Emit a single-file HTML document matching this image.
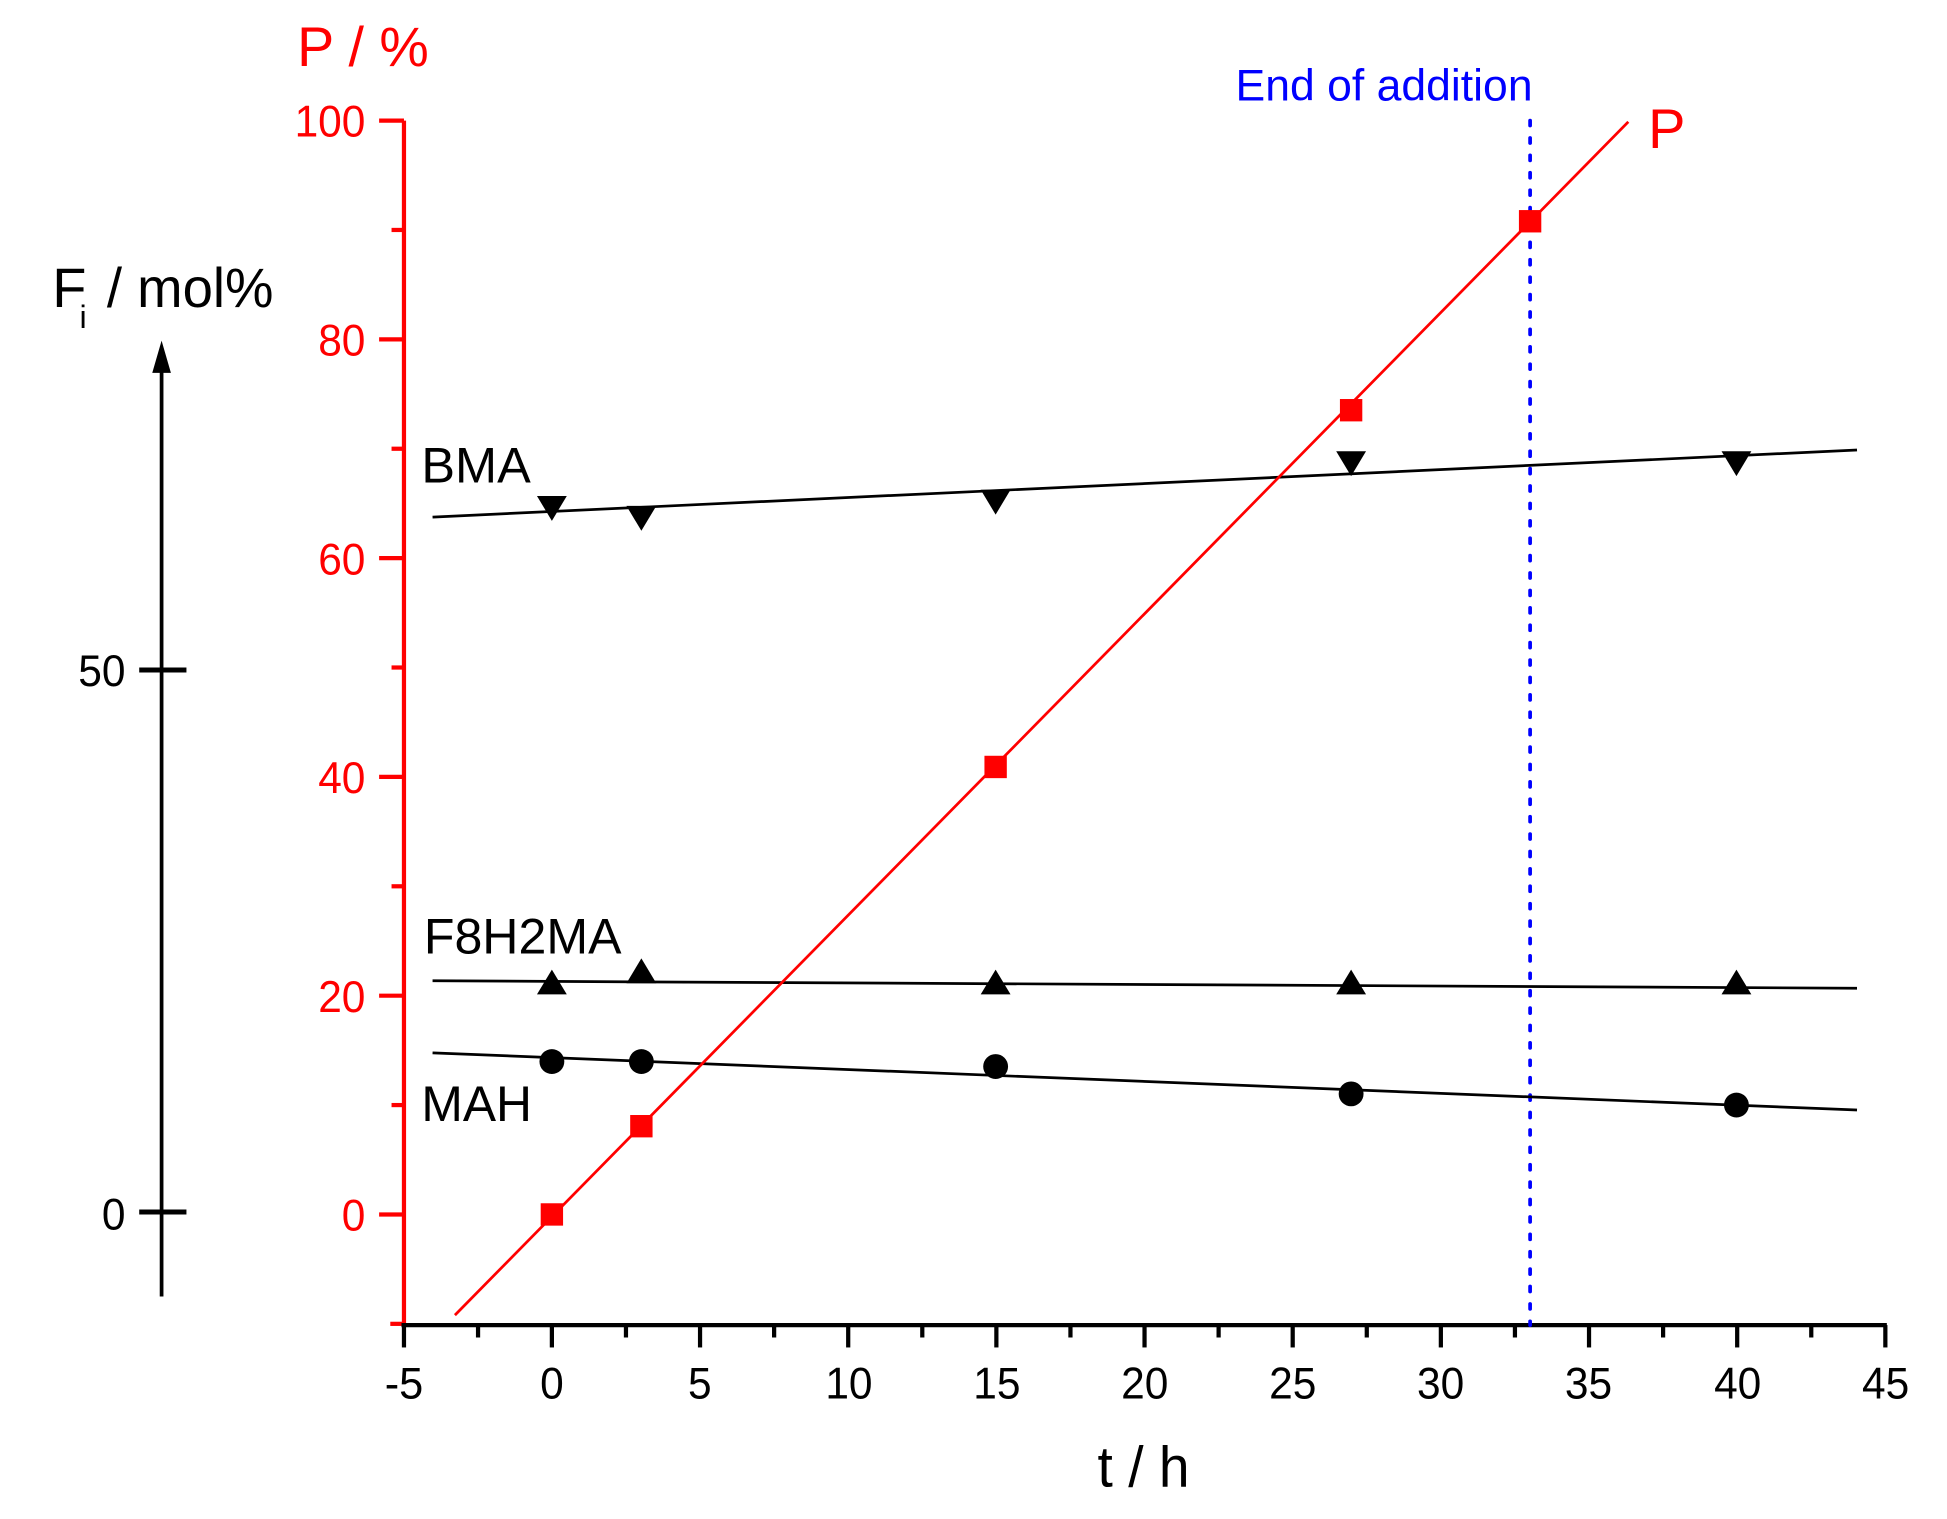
<!DOCTYPE html>
<html><head><meta charset="utf-8"><style>html,body{margin:0;padding:0;background:#fff}svg{display:block}</style></head>
<body>
<svg width="1947" height="1519" viewBox="0 0 1566.4 1222" preserveAspectRatio="none" xmlns="http://www.w3.org/2000/svg" font-family="Liberation Sans, Arial, sans-serif">
<rect width="1566.4" height="1222" fill="#fff"/>
<!-- left black Fi axis -->
<line x1="130" y1="290" x2="130" y2="1043" stroke="#000" stroke-width="3"/>
<polygon points="130,274 122.5,300 137.5,300" fill="#000"/>
<line x1="112" y1="539" x2="150" y2="539" stroke="#000" stroke-width="4"/>
<line x1="112" y1="975" x2="150" y2="975" stroke="#000" stroke-width="4"/>
<text x="101" y="552" font-size="36" text-anchor="end" fill="#000" textLength="38" lengthAdjust="spacingAndGlyphs">50</text>
<text x="101" y="989" font-size="36" text-anchor="end" fill="#000" textLength="19" lengthAdjust="spacingAndGlyphs">0</text>
<text x="42" y="247" font-size="45" fill="#000">F</text>
<text x="64" y="264" font-size="26" fill="#000">i</text>
<text x="86" y="247" font-size="45" fill="#000" textLength="134" lengthAdjust="spacingAndGlyphs">/ mol%</text>
<!-- red P axis -->
<line x1="325" y1="97" x2="325" y2="1066" stroke="#f00" stroke-width="3.4"/>
<g stroke="#f00" stroke-width="3.4">
<line x1="305" y1="97" x2="325" y2="97"/><line x1="315" y1="185" x2="325" y2="185"/>
<line x1="305" y1="273" x2="325" y2="273"/><line x1="315" y1="361" x2="325" y2="361"/>
<line x1="305" y1="449" x2="325" y2="449"/><line x1="315" y1="537" x2="325" y2="537"/>
<line x1="305" y1="625" x2="325" y2="625"/><line x1="315" y1="713" x2="325" y2="713"/>
<line x1="305" y1="801" x2="325" y2="801"/><line x1="315" y1="889" x2="325" y2="889"/>
<line x1="305" y1="977" x2="325" y2="977"/><line x1="314" y1="1065" x2="325" y2="1065"/>
</g>
<g fill="#f00" font-size="36" text-anchor="end" lengthAdjust="spacingAndGlyphs">
<text x="294" y="110" textLength="57" lengthAdjust="spacingAndGlyphs">100</text>
<text x="294" y="286" textLength="38" lengthAdjust="spacingAndGlyphs">80</text>
<text x="294" y="462" textLength="38" lengthAdjust="spacingAndGlyphs">60</text>
<text x="294" y="638" textLength="38" lengthAdjust="spacingAndGlyphs">40</text>
<text x="294" y="814" textLength="38" lengthAdjust="spacingAndGlyphs">20</text>
<text x="294" y="990" textLength="19" lengthAdjust="spacingAndGlyphs">0</text>
</g>
<text x="239" y="53" font-size="45" fill="#f00" textLength="106" lengthAdjust="spacingAndGlyphs">P / %</text>
<!-- x axis -->
<line x1="323" y1="1066" x2="1518" y2="1066" stroke="#000" stroke-width="3.4"/>
<g stroke="#000" stroke-width="3.4">
<line x1="325" y1="1066" x2="325" y2="1084"/><line x1="384.6" y1="1066" x2="384.6" y2="1076"/>
<line x1="444" y1="1066" x2="444" y2="1084"/><line x1="503.6" y1="1066" x2="503.6" y2="1076"/>
<line x1="563.2" y1="1066" x2="563.2" y2="1084"/><line x1="622.8" y1="1066" x2="622.8" y2="1076"/>
<line x1="682.4" y1="1066" x2="682.4" y2="1084"/><line x1="742" y1="1066" x2="742" y2="1076"/>
<line x1="801.6" y1="1066" x2="801.6" y2="1084"/><line x1="861.2" y1="1066" x2="861.2" y2="1076"/>
<line x1="920.8" y1="1066" x2="920.8" y2="1084"/><line x1="980.4" y1="1066" x2="980.4" y2="1076"/>
<line x1="1040" y1="1066" x2="1040" y2="1084"/><line x1="1099.6" y1="1066" x2="1099.6" y2="1076"/>
<line x1="1159.2" y1="1066" x2="1159.2" y2="1084"/><line x1="1218.8" y1="1066" x2="1218.8" y2="1076"/>
<line x1="1278.4" y1="1066" x2="1278.4" y2="1084"/><line x1="1338" y1="1066" x2="1338" y2="1076"/>
<line x1="1397.6" y1="1066" x2="1397.6" y2="1084"/><line x1="1457.2" y1="1066" x2="1457.2" y2="1076"/>
<line x1="1516.8" y1="1066" x2="1516.8" y2="1084"/>
</g>
<g fill="#000" font-size="36" text-anchor="middle">
<text x="325" y="1125" textLength="31" lengthAdjust="spacingAndGlyphs">-5</text>
<text x="444" y="1125" textLength="19" lengthAdjust="spacingAndGlyphs">0</text>
<text x="563" y="1125" textLength="19" lengthAdjust="spacingAndGlyphs">5</text>
<text x="683" y="1125" textLength="38" lengthAdjust="spacingAndGlyphs">10</text>
<text x="802" y="1125" textLength="38" lengthAdjust="spacingAndGlyphs">15</text>
<text x="921" y="1125" textLength="38" lengthAdjust="spacingAndGlyphs">20</text>
<text x="1040" y="1125" textLength="38" lengthAdjust="spacingAndGlyphs">25</text>
<text x="1159" y="1125" textLength="38" lengthAdjust="spacingAndGlyphs">30</text>
<text x="1278" y="1125" textLength="38" lengthAdjust="spacingAndGlyphs">35</text>
<text x="1398" y="1125" textLength="38" lengthAdjust="spacingAndGlyphs">40</text>
<text x="1517" y="1125" textLength="38" lengthAdjust="spacingAndGlyphs">45</text>
</g>
<text x="920" y="1196" font-size="46" text-anchor="middle" fill="#000" textLength="74" lengthAdjust="spacingAndGlyphs">t / h</text>
<!-- end of addition -->
<line x1="1231" y1="97" x2="1231" y2="1066" stroke="#00f" stroke-width="3" stroke-dasharray="4 10" stroke-linecap="round"/>
<text x="994" y="81" font-size="36" fill="#00f" textLength="239" lengthAdjust="spacingAndGlyphs">End of addition</text>
<!-- fitted black lines -->
<g stroke="#000" stroke-width="2.2">
<line x1="348" y1="416" x2="1494" y2="362"/>
<line x1="348" y1="789" x2="1494" y2="795"/>
<line x1="348" y1="847" x2="1494" y2="893"/>
</g>
<!-- P line -->
<line x1="366" y1="1058" x2="1310" y2="98" stroke="#f00" stroke-width="2.2"/>
<g fill="#000">
<polygon points="432,399 456,399 444,419"/>
<polygon points="504,407 528,407 516,427"/>
<polygon points="789,394 813,394 801,414"/>
<polygon points="1075,363 1099,363 1087,383"/>
<polygon points="1385,363 1409,363 1397,383"/>
<polygon points="444,780 456,800 432,800"/>
<polygon points="516,771 528,791 504,791"/>
<polygon points="801,780 813,800 789,800"/>
<polygon points="1087,780 1099,800 1075,800"/>
<polygon points="1397,780 1409,800 1385,800"/>
<circle cx="444" cy="854" r="10"/>
<circle cx="516" cy="854" r="10"/>
<circle cx="801" cy="858" r="10"/>
<circle cx="1087" cy="880" r="10"/>
<circle cx="1397" cy="889" r="10"/>
</g>
<g fill="#f00">
<rect x="435" y="968" width="18" height="18"/>
<rect x="507" y="897" width="18" height="18"/>
<rect x="792" y="608" width="18" height="18"/>
<rect x="1078" y="321" width="18" height="18"/>
<rect x="1222" y="169" width="18" height="18"/>
</g>
<g fill="#000" font-size="40">
<text x="339" y="388" textLength="88" lengthAdjust="spacingAndGlyphs">BMA</text>
<text x="341" y="767" textLength="159" lengthAdjust="spacingAndGlyphs">F8H2MA</text>
<text x="339" y="902" textLength="89" lengthAdjust="spacingAndGlyphs">MAH</text>
</g>
<text x="1326" y="119" font-size="45" fill="#f00">P</text>
</svg>
</body></html>
